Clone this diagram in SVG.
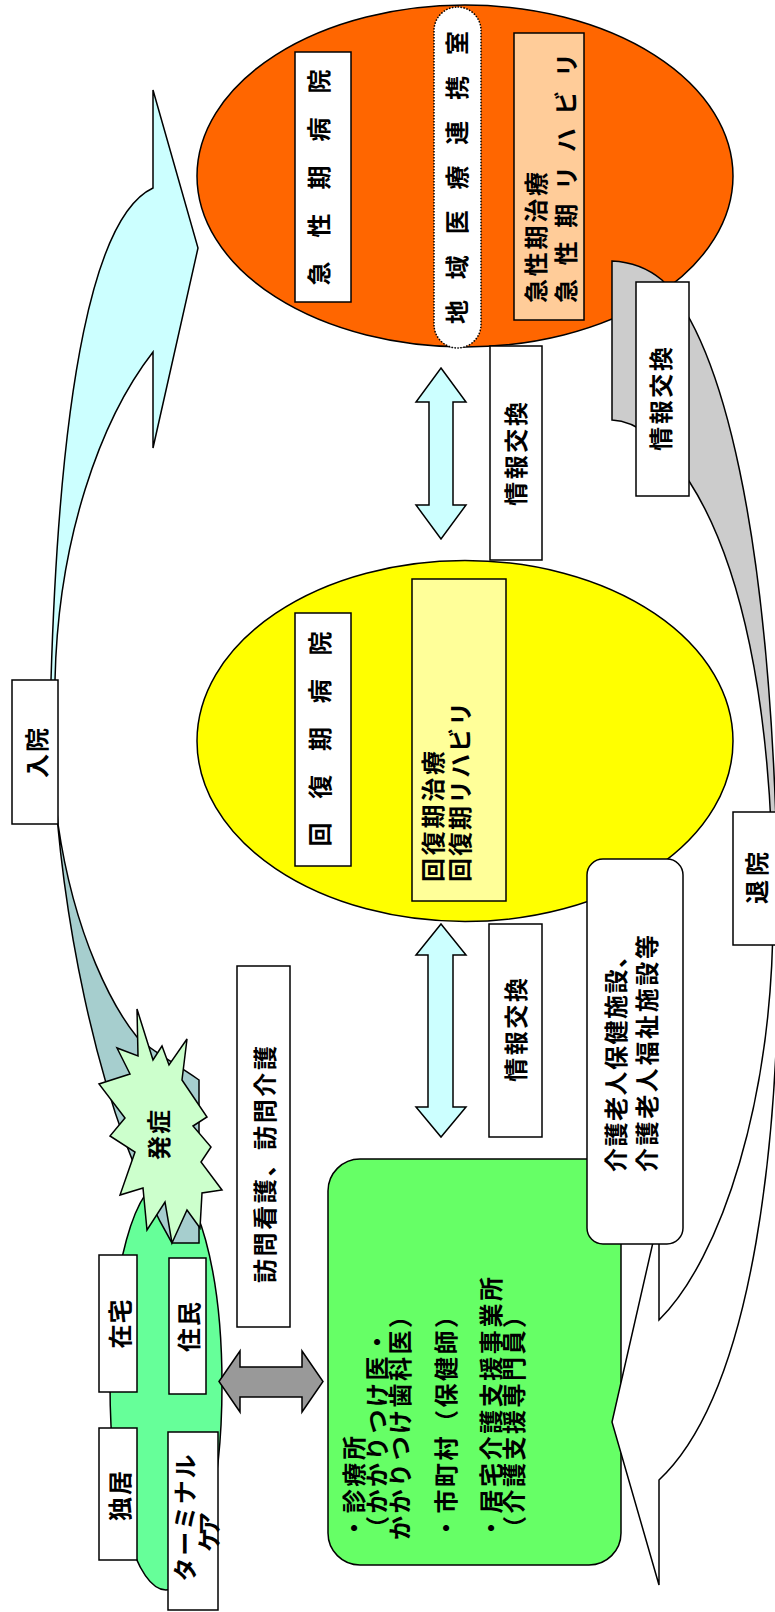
<svg xmlns="http://www.w3.org/2000/svg" width="775" height="1612" viewBox="0 0 775 1612">
<style>
.t{font-family:"Noto Sans CJK JP","Noto Sans CJK SC",sans-serif;font-weight:bold;font-size:24px;fill:#000}
.c{text-anchor:middle}
.s{text-anchor:start}
.ln{stroke:#000;stroke-width:1.5}
.box{fill:#fff;stroke:#000;stroke-width:1.5}
</style>
<defs>
<linearGradient id="gL" gradientUnits="userSpaceOnUse" x1="0" y1="700" x2="0" y2="805">
<stop offset="0" stop-color="#ccffff"/><stop offset="1" stop-color="#a6cece"/>
</linearGradient>
<linearGradient id="gR" gradientUnits="userSpaceOnUse" x1="0" y1="825" x2="0" y2="935">
<stop offset="0" stop-color="#cccccc"/><stop offset="1" stop-color="#ffffff"/>
</linearGradient>
</defs>
<rect width="775" height="1612" fill="#fff"/>

<g id="acute">
<ellipse cx="465" cy="176" rx="268" ry="171" fill="#ff6600" class="ln"/>
<rect x="295" y="52" width="56" height="250" class="box"/>
<text class="t c" dominant-baseline="central" transform="translate(317,177.5) rotate(-90)" textLength="216" lengthAdjust="spacing">急性期病院</text>
<rect x="434" y="7" width="47" height="341" rx="23.5" fill="#fff" stroke="#000" stroke-width="1.5" stroke-dasharray="1.5 1.5"/>
<text class="t c" dominant-baseline="central" transform="translate(455,177.5) rotate(-90)" textLength="293" lengthAdjust="spacing">地域医療連携室</text>
<rect x="514" y="33" width="70" height="287" fill="#ffcc99" class="ln"/>
<text class="t s" dominant-baseline="central" transform="translate(534,303) rotate(-90)" textLength="131" lengthAdjust="spacing">急性期治療</text>
<text class="t s" dominant-baseline="central" transform="translate(564,303) rotate(-90)" textLength="250" lengthAdjust="spacing">急性期リハビリ</text>
</g>

<g id="recovery">
<ellipse cx="465" cy="741" rx="268" ry="180.5" fill="#ffff00" class="ln"/>
<rect x="295" y="613" width="56" height="253" class="box"/>
<text class="t c" dominant-baseline="central" transform="translate(318,739) rotate(-90)" textLength="215" lengthAdjust="spacing">回復期病院</text>
<rect x="412" y="579" width="94" height="322" fill="#ffff99" class="ln"/>
<text class="t s" dominant-baseline="central" transform="translate(431,882) rotate(-90)" textLength="131" lengthAdjust="spacing">回復期治療</text>
<text class="t s" dominant-baseline="central" transform="translate(458,882) rotate(-90)" textLength="180" lengthAdjust="spacing">回復期リハビリ</text>
</g>

<g id="community">
<ellipse cx="166" cy="1385" rx="56" ry="205" fill="#66ff99" class="ln"/>
</g>

<g id="services">
<rect x="328" y="1159" width="293" height="406" rx="32" fill="#66ff66" class="ln"/>
<text class="t s" dominant-baseline="central" transform="translate(352,1540) rotate(-90)" textLength="104" lengthAdjust="spacing">・診療所</text>
<text class="t s" dominant-baseline="central" transform="translate(375,1540) rotate(-90)" textLength="210" lengthAdjust="spacing">（かかりつけ医・</text>
<text class="t s" dominant-baseline="central" transform="translate(398,1540) rotate(-90)" textLength="236" lengthAdjust="spacing">かかりつけ歯科医）</text>
<text class="t s" dominant-baseline="central" transform="translate(444,1540) rotate(-90)" textLength="236" lengthAdjust="spacing">・市町村（保健師）</text>
<text class="t s" dominant-baseline="central" transform="translate(489,1540) rotate(-90)" textLength="263" lengthAdjust="spacing">・居宅介護支援事業所</text>
<text class="t s" dominant-baseline="central" transform="translate(512,1540) rotate(-90)" textLength="236" lengthAdjust="spacing">（介護支援専門員）</text>
</g>

<g id="connectors">
<path id="admit-arrow" class="ln" fill="url(#gL)" d="M153,90 L198,248 L153,448 L153,352 C100,420 58,540 55,680 C55,720 54,780 58,824 C75,940 115,1010 137,1037 C150,1050 170,1060 199,1080 L199,1243 L172,1243 C100,1120 51,900 51,680 C60,380 95,215 153,188 Z"/>
<path id="discharge-arrow" class="ln" fill="url(#gR)" d="M612,261 C635,262 650,270 662,280 C720,340 772,520 778,900 C782,1130 755,1390 659,1480 L659,1585 L612,1422 L659,1216 L659,1320 C720,1260 775,1100 773,900 C772,700 740,560 689,481 C665,445 640,421 612,420 Z"/>
<polygon id="dbl1" class="ln" fill="#ccffff" points="441,368 466,402 453,402 453,505 466,505 441,539 416,505 429,505 429,402 416,402"/>
<polygon id="dbl2" class="ln" fill="#ccffff" points="441,924 466,955 453,955 453,1107 466,1107 441,1137 416,1107 428,1107 428,955 416,955"/>
<polygon id="dbl3" class="ln" fill="#999999" points="219,1381.5 240,1351 240,1367 302,1367 302,1351 323,1381.5 302,1412 302,1397 240,1397 240,1412"/>
</g>

<g id="onset">
<polygon class="ln" fill="#ccffcc" points="137,1009 153,1060 162,1046 169,1065 187,1039 182,1080 207,1117 193,1126 211,1147 201,1162 222,1190 202,1193 200,1228 187,1210 172,1243 165,1202 147,1230 143,1188 120,1195 135,1152 110,1136 125,1118 99,1084 130,1074 117,1048 138,1056"/>
<text class="t c" dominant-baseline="central" transform="translate(157,1135) rotate(-90)" textLength="50" lengthAdjust="spacing">発症</text>
</g>

<g id="home">
<rect x="99" y="1255" width="38" height="137" class="box"/>
<text class="t c" dominant-baseline="central" transform="translate(118,1324) rotate(-90)" textLength="49" lengthAdjust="spacing">在宅</text>
</g>
<g id="resident">
<rect x="169" y="1258" width="37" height="136" class="box"/>
<text class="t c" dominant-baseline="central" transform="translate(187,1327) rotate(-90)" textLength="50" lengthAdjust="spacing">住民</text>
</g>
<g id="alone">
<rect x="99" y="1428" width="38" height="132" class="box"/>
<text class="t c" dominant-baseline="central" transform="translate(118,1496) rotate(-90)" textLength="50" lengthAdjust="spacing">独居</text>
</g>
<g id="terminal">
<rect x="168" y="1432" width="50" height="178" class="box"/>
<text class="t c" dominant-baseline="central" transform="translate(183,1518) rotate(-90)" textLength="127" lengthAdjust="spacing">ターミナル</text>
<text class="t c" dominant-baseline="central" transform="translate(207,1532) rotate(-90)" textLength="40" lengthAdjust="spacing">ケア</text>
</g>

<g id="visit">
<rect x="237" y="966" width="53" height="361" class="box"/>
<text class="t s" dominant-baseline="central" transform="translate(263,1283) rotate(-90)" textLength="237" lengthAdjust="spacing">訪問看護、訪問介護</text>
</g>

<g id="facility">
<rect x="587" y="859" width="96" height="385" rx="16" class="box"/>
<text class="t s" dominant-baseline="central" transform="translate(614,1172) rotate(-90)" textLength="228" lengthAdjust="spacing">介護老人保健施設、</text>
<text class="t s" dominant-baseline="central" transform="translate(645,1172) rotate(-90)" textLength="237" lengthAdjust="spacing">介護老人福祉施設等</text>
</g>

<g id="label-admit">
<rect x="12" y="680" width="46" height="144" class="box"/>
<text class="t c" dominant-baseline="central" transform="translate(35,753) rotate(-90)" textLength="50" lengthAdjust="spacing">入院</text>
</g>
<g id="label-discharge">
<rect x="733" y="812" width="50" height="133" class="box"/>
<text class="t c" dominant-baseline="central" transform="translate(755,878) rotate(-90)" textLength="52" lengthAdjust="spacing">退院</text>
</g>
<g id="label-info1">
<rect x="490" y="346" width="52" height="214" class="box"/>
<text class="t c" dominant-baseline="central" transform="translate(514,454) rotate(-90)" textLength="104" lengthAdjust="spacing">情報交換</text>
</g>
<g id="label-info2">
<rect x="489" y="924" width="53" height="213" class="box"/>
<text class="t c" dominant-baseline="central" transform="translate(514,1030) rotate(-90)" textLength="104" lengthAdjust="spacing">情報交換</text>
</g>
<g id="label-info3">
<rect x="636" y="282" width="53" height="214" class="box"/>
<text class="t c" dominant-baseline="central" transform="translate(659,399) rotate(-90)" textLength="104" lengthAdjust="spacing">情報交換</text>
</g>
</svg>
